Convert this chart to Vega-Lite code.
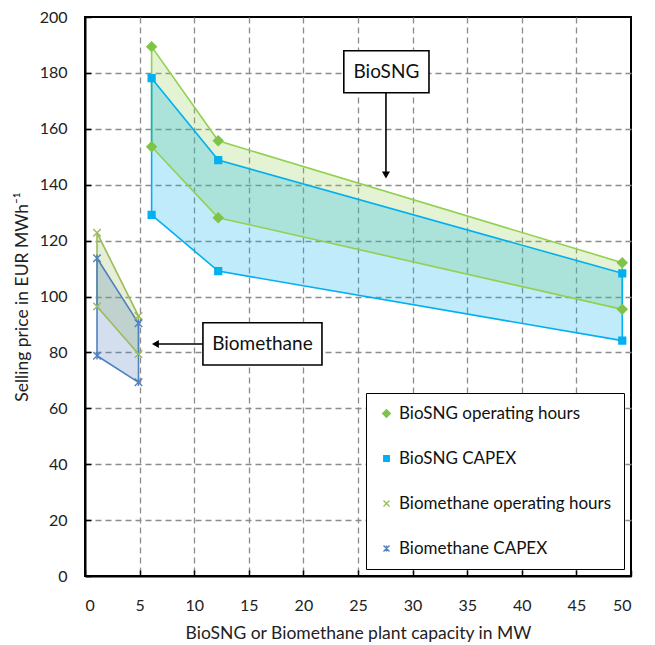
{
  "$schema": "https://vega.github.io/schema/vega-lite/v6.json",
  "width": 546,
  "height": 559,
  "autosize": {"type": "none"},
  "padding": {"left": 85, "top": 17, "right": 24, "bottom": 69},
  "background": "white",
  "config": {
    "font": "Lato",
    "view": {"stroke": "black", "strokeWidth": 2},
    "axis": {
      "domainColor": "black",
      "domainWidth": 2,
      "tickColor": "black",
      "tickWidth": 1.5,
      "tickSize": -6,
      "labelFont": "Lato",
      "labelFontSize": 16,
      "labelColor": "#222222",
      "titleFont": "Lato",
      "titleFontSize": 17.5,
      "titleFontWeight": "normal",
      "titleColor": "#222222",
      "gridDash": [6, 4],
      "gridWidth": 1.3
    }
  },
  "datasets": {
    "pts": [
      {"series": "BioSNG operating hours", "cap": 6.1, "price": 189.4, "bound": "high"},
      {"series": "BioSNG operating hours", "cap": 12.2, "price": 155.7, "bound": "high"},
      {"series": "BioSNG operating hours", "cap": 49.2, "price": 112.1, "bound": "high"},
      {"series": "BioSNG operating hours", "cap": 6.1, "price": 153.6, "bound": "low"},
      {"series": "BioSNG operating hours", "cap": 12.2, "price": 128.2, "bound": "low"},
      {"series": "BioSNG operating hours", "cap": 49.2, "price": 95.4, "bound": "low"},
      {"series": "BioSNG CAPEX", "cap": 6.1, "price": 178.1, "bound": "high"},
      {"series": "BioSNG CAPEX", "cap": 12.2, "price": 148.8, "bound": "high"},
      {"series": "BioSNG CAPEX", "cap": 49.2, "price": 108.3, "bound": "high"},
      {"series": "BioSNG CAPEX", "cap": 6.1, "price": 129.2, "bound": "low"},
      {"series": "BioSNG CAPEX", "cap": 12.2, "price": 109.1, "bound": "low"},
      {"series": "BioSNG CAPEX", "cap": 49.2, "price": 84.2, "bound": "low"},
      {"series": "Biomethane operating hours", "cap": 1.1, "price": 122.8, "bound": "high"},
      {"series": "Biomethane operating hours", "cap": 4.9, "price": 93.0, "bound": "high"},
      {"series": "Biomethane operating hours", "cap": 1.1, "price": 96.4, "bound": "low"},
      {"series": "Biomethane operating hours", "cap": 4.9, "price": 79.4, "bound": "low"},
      {"series": "Biomethane CAPEX", "cap": 1.1, "price": 113.7, "bound": "high"},
      {"series": "Biomethane CAPEX", "cap": 4.9, "price": 90.4, "bound": "high"},
      {"series": "Biomethane CAPEX", "cap": 1.1, "price": 78.8, "bound": "low"},
      {"series": "Biomethane CAPEX", "cap": 4.9, "price": 69.3, "bound": "low"}
    ],
    "boxes": [
      {"label": "BioSNG", "x1": 23.7, "x2": 31.5, "y1": 172.9, "y2": 187.9, "tx": 27.6, "ty": 180.4},
      {"label": "Biomethane", "x1": 10.8, "x2": 21.7, "y1": 75.5, "y2": 90.6, "tx": 16.25, "ty": 83.0}
    ],
    "arrows": [
      {"label": "BioSNG", "xa": 27.56, "ya": 172.9, "xb": 27.56, "yb": 143.5},
      {"label": "Biomethane", "xa": 10.8, "ya": 83.0, "xb": 6.45, "yb": 83.0}
    ]
  },
  "layer": [
    {
      "data": {"name": "pts"},
      "transform": [{"pivot": "bound", "value": "price", "groupby": ["series", "cap"]}],
      "mark": {"type": "area", "opacity": 0.25},
      "encoding": {
        "x": {
          "field": "cap", "type": "quantitative",
          "scale": {"domain": [0, 50], "nice": false, "zero": false},
          "axis": {
            "title": "BioSNG or Biomethane plant capacity in MW",
            "values": [0, 5, 10, 15, 20, 25, 30, 35, 40, 45, 50],
            "labelPadding": 27,
            "titlePadding": 11,
            "gridColor": "#8c8c8c",
            "gridOpacity": {"condition": {"test": "datum.value == 0 || datum.value == 50", "value": 0}, "value": 1}
          }
        },
        "y": {
          "field": "high", "type": "quantitative",
          "scale": {"domain": [0, 200], "nice": false},
          "axis": {
            "title": "Selling price in EUR MWh⁻¹",
            "values": [0, 20, 40, 60, 80, 100, 120, 140, 160, 180, 200],
            "labelPadding": 24,
            "titlePadding": 8,
            "gridColor": "#8c8c8c",
            "gridOpacity": {"condition": {"test": "datum.value == 0 || datum.value == 200", "value": 0}, "value": 1}
          }
        },
        "y2": {"field": "low"},
        "color": {
          "field": "series", "type": "nominal",
          "scale": {
            "domain": ["BioSNG CAPEX", "BioSNG operating hours", "Biomethane CAPEX", "Biomethane operating hours"],
            "range": ["#00B0F0", "#92D050", "#4F81BD", "#9BBB59"]
          },
          "legend": null
        }
      }
    },
    {
      "data": {"name": "pts"},
      "mark": {"type": "line", "strokeWidth": 1.6},
      "encoding": {
        "x": {"field": "cap", "type": "quantitative"},
        "y": {"field": "price", "type": "quantitative"},
        "color": {"field": "series", "type": "nominal", "legend": null},
        "detail": {"field": "bound"}
      }
    },
    {
      "data": {"name": "pts"},
      "transform": [
        {"pivot": "bound", "value": "price", "groupby": ["series", "cap"]},
        {"filter": "datum.cap != 12.2"}
      ],
      "mark": {"type": "rule", "strokeWidth": 1.6},
      "encoding": {
        "x": {"field": "cap", "type": "quantitative"},
        "y": {"field": "high", "type": "quantitative"},
        "y2": {"field": "low"},
        "color": {"field": "series", "type": "nominal", "legend": null}
      }
    },
    {
      "data": {"name": "pts"},
      "mark": {"type": "point", "filled": true, "opacity": 1, "size": 100, "strokeWidth": 1.4},
      "encoding": {
        "x": {"field": "cap", "type": "quantitative"},
        "y": {"field": "price", "type": "quantitative"},
        "fill": {
          "field": "series", "type": "nominal",
          "scale": {
            "domain": ["BioSNG operating hours", "BioSNG CAPEX", "Biomethane operating hours", "Biomethane CAPEX"],
            "range": ["#7FC34A", "#00B0F0", "#9BBB59", "#4F81BD"]
          },
          "legend": {"title": null, "orient": "none", "legendX": 281, "legendY": 376}
        },
        "stroke": {
          "field": "series", "type": "nominal",
          "scale": {
            "domain": ["BioSNG operating hours", "BioSNG CAPEX", "Biomethane operating hours", "Biomethane CAPEX"],
            "range": ["#7FC34A", "#00B0F0", "#9BBB59", "#4F81BD"]
          },
          "legend": {"title": null, "orient": "none", "legendX": 281, "legendY": 376}
        },
        "shape": {
          "field": "series", "type": "nominal",
          "scale": {
            "domain": ["BioSNG operating hours", "BioSNG CAPEX", "Biomethane operating hours", "Biomethane CAPEX"],
            "range": [
              "M0,-0.95L0.95,0L0,0.95L-0.95,0Z",
              "M-0.68,-0.68L0.68,-0.68L0.68,0.68L-0.68,0.68Z",
              "M-0.75,-0.75L0.75,0.75M-0.75,0.75L0.75,-0.75",
              "M-0.75,-0.75L0.75,0.75M-0.75,0.75L0.75,-0.75M0,-0.75L0,0.75"
            ]
          },
          "legend": {
            "title": null, "orient": "none", "legendX": 281, "legendY": 376,
            "strokeColor": "black", "fillColor": "white", "padding": 12,
            "rowPadding": 27, "labelFontSize": 17, "labelColor": "#111111",
            "labelFont": "Lato", "symbolSize": 64, "symbolStrokeWidth": 1.4, "labelOffset": 4,
            "labelLimit": 400
          }
        }
      }
    },
    {
      "data": {"name": "boxes"},
      "mark": {"type": "rect", "fill": "white", "stroke": "black", "strokeWidth": 1.6},
      "encoding": {
        "x": {"field": "x1", "type": "quantitative"},
        "x2": {"field": "x2"},
        "y": {"field": "y1", "type": "quantitative"},
        "y2": {"field": "y2"}
      }
    },
    {
      "data": {"name": "boxes"},
      "mark": {"type": "text", "fontSize": 19, "font": "Lato", "color": "#111111", "align": "center", "baseline": "middle"},
      "encoding": {
        "x": {"field": "tx", "type": "quantitative"},
        "y": {"field": "ty", "type": "quantitative"},
        "text": {"field": "label"}
      }
    },
    {
      "data": {"name": "arrows"},
      "mark": {"type": "rule", "color": "black", "strokeWidth": 1.6},
      "encoding": {
        "x": {"field": "xa", "type": "quantitative"},
        "x2": {"field": "xb"},
        "y": {"field": "ya", "type": "quantitative"},
        "y2": {"field": "yb"}
      }
    },
    {
      "data": {"name": "arrows"},
      "transform": [{"filter": "datum.label == 'BioSNG'"}],
      "mark": {"type": "point", "shape": "triangle-down", "filled": true, "color": "black", "opacity": 1, "size": 64},
      "encoding": {
        "x": {"field": "xb", "type": "quantitative"},
        "y": {"field": "yb", "type": "quantitative"}
      }
    },
    {
      "data": {"name": "arrows"},
      "transform": [{"filter": "datum.label == 'Biomethane'"}],
      "mark": {"type": "point", "shape": "triangle-left", "filled": true, "color": "black", "opacity": 1, "size": 64},
      "encoding": {
        "x": {"field": "xb", "type": "quantitative"},
        "y": {"field": "yb", "type": "quantitative"}
      }
    }
  ]
}
